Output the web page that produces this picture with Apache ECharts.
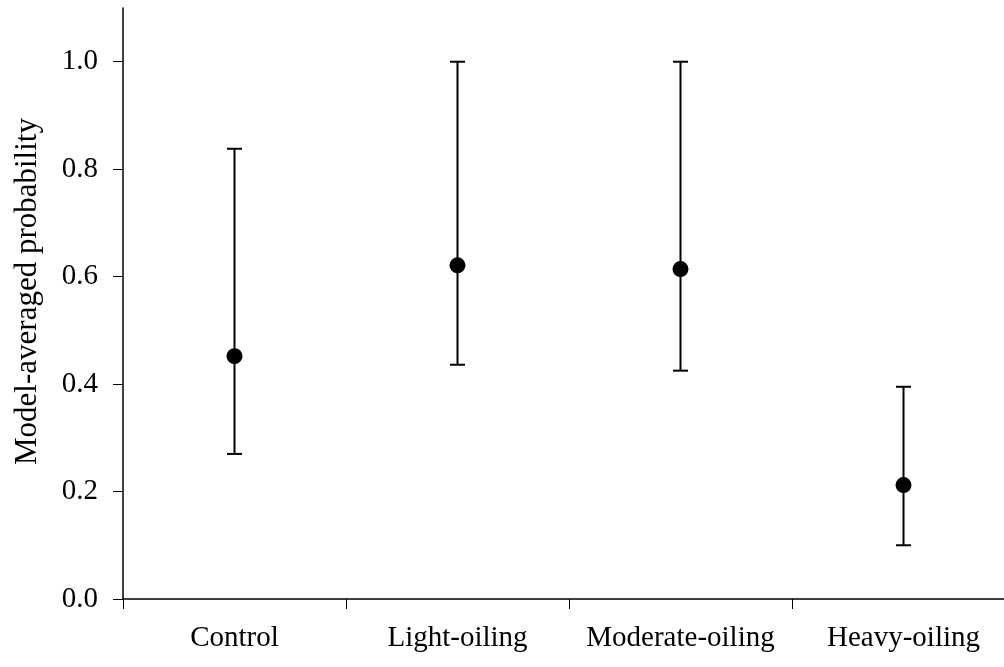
<!DOCTYPE html>
<html>
<head>
<meta charset="utf-8">
<script src="https://cdn.jsdelivr.net/npm/echarts@6/dist/echarts.min.js"></script>
<style>html,body{margin:0;padding:0;background:#fff}#c{width:1004px;height:667px}</style>
</head>
<body>
<div id="c"></div>
<script>
var categories = ['Control', 'Light-oiling', 'Moderate-oiling', 'Heavy-oiling'];
var means = [0.452, 0.621, 0.614, 0.212];
var lowers = [0.270, 0.436, 0.425, 0.100];
var uppers = [0.838, 1.000, 1.000, 0.395];
var yTicks = [0, 0.2, 0.4, 0.6, 0.8, 1.0];

var chart = echarts.init(document.getElementById('c'));
var font = '"Liberation Serif", "Times New Roman", serif';
var errData = categories.map(function (c, i) { return [i, lowers[i], uppers[i]]; });

chart.setOption({
  animation: false,
  backgroundColor: '#fff',
  grid: { left: 123, right: -11, top: 8, bottom: 68, outerBoundsMode: 'none', containLabel: false },
  xAxis: {
    type: 'category',
    data: categories,
    boundaryGap: true,
    axisLine: { lineStyle: { color: '#000', width: 1.5 } },
    axisTick: { show: true, interval: 0, length: 10, lineStyle: { color: '#000', width: 1 } },
    axisLabel: { interval: 0, hideOverlap: false, color: '#000', fontFamily: font, fontSize: 29, margin: 25 },
    splitLine: { show: false }
  },
  yAxis: {
    type: 'value',
    min: 0,
    max: 1.1,
    interval: 0.2,
    name: 'Model-averaged probability',
    nameLocation: 'middle',
    nameGap: 80,
    nameTextStyle: { color: '#000', fontFamily: font, fontSize: 31, padding: [0, 0, 0, 24] },
    axisLine: { show: true, lineStyle: { color: '#000', width: 1.5 } },
    axisTick: { show: true, length: 10, customValues: yTicks, lineStyle: { color: '#000', width: 1 } },
    axisLabel: {
      color: '#000', fontFamily: font, fontSize: 29, margin: 25,
      customValues: yTicks,
      formatter: function (v) { return v.toFixed(1); }
    },
    splitLine: { show: false }
  },
  series: [
    {
      type: 'custom',
      data: errData,
      renderItem: function (params, api) {
        var x = api.value(0);
        var lo = api.coord([x, api.value(1)]);
        var hi = api.coord([x, api.value(2)]);
        var hw = 7.5;
        var st = { stroke: '#000', lineWidth: 2 };
        return {
          type: 'group',
          children: [
            { type: 'line', shape: { x1: lo[0], y1: lo[1], x2: hi[0], y2: hi[1] }, style: st },
            { type: 'line', shape: { x1: lo[0] - hw, y1: lo[1], x2: lo[0] + hw, y2: lo[1] }, style: st },
            { type: 'line', shape: { x1: hi[0] - hw, y1: hi[1], x2: hi[0] + hw, y2: hi[1] }, style: st }
          ]
        };
      },
      z: 2
    },
    {
      type: 'scatter',
      data: means,
      symbol: 'circle',
      symbolSize: 16,
      itemStyle: { color: '#000', opacity: 1 },
      z: 3
    }
  ]
});
</script>
</body>
</html>
